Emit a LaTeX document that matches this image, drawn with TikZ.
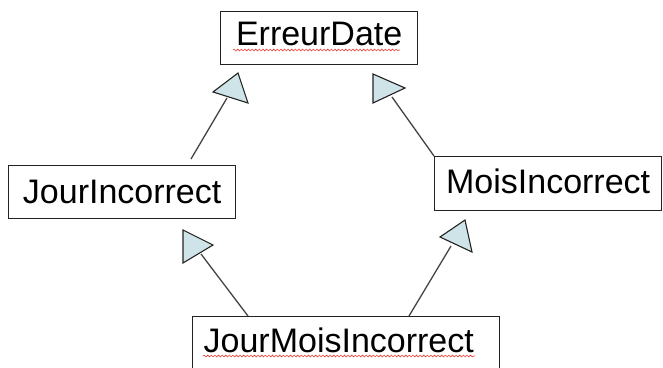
\documentclass[tikz,border=0pt]{standalone}
\usepackage{fontspec}
\setmainfont{Liberation Sans}
\usetikzlibrary{calc,decorations.pathmorphing}

\definecolor{boxline}{HTML}{222222}
\definecolor{linkline}{HTML}{444444}
\definecolor{headfill}{HTML}{CFE4E8}
\definecolor{spellred}{HTML}{F0403A}

\tikzset{
  classbox/.style={draw=boxline, line width=1.3pt, inner sep=0pt, fill=white,
    font=\fontsize{34}{40}\selectfont, anchor=north west},
  link/.style={draw=linkline, line width=1.3pt},
  head/.style={draw=boxline, line width=1.1pt, fill=headfill, line join=miter},
  squiggle/.style={draw=spellred, line width=0.6pt,
    decorate, decoration={snake, amplitude=0.9pt, segment length=3.6pt}}
}

\begin{document}
\begin{tikzpicture}[x=1pt,y=-1pt]
  \clip (0,0) rectangle (663,367);
  \fill[white] (0,0) rectangle (663,367);

  % class boxes (text height/depth place the baseline inside each box)
  \node[classbox, text width=197pt, align=center, text height=34pt, text depth=19pt]
    (err) at (220,11) {ErreurDate};
  \node[classbox, text width=227pt, align=center, text height=38pt, text depth=15pt]
    (jour) at (8,165) {JourIncorrect};
  \node[classbox, text width=227pt, align=center, text height=37pt, text depth=17pt]
    (mois) at (434,156) {MoisIncorrect};
  \node[classbox, text width=307pt, align=left, text height=36pt, text depth=40pt]
    (jm) at (192,316) {\hspace*{11pt}JourMoisIncorrect};

  % spell-check underlines
  \draw[squiggle] ($(err.north west)+(13,39)$) -- ($(err.north west)+(180,39)$);
  \draw[squiggle] ($(jm.north west)+(11,40)$) -- ($(jm.north west)+(283,40)$);

  % ends of the generalisation links, at the base of each triangle
  \coordinate (hJE) at (227,98);
  \coordinate (hME) at (392,97);
  \coordinate (hJMJ) at (201,254);
  \coordinate (hJMM) at (451,246);

  % generalisation links
  \draw[link] ($(jour.north west)+(183,-6)$) -- (hJE);
  \draw[link] (mois.north west) -- (hME);
  \draw[link] ($(jm.north west)+(56,0)$) -- (hJMJ);
  \draw[link] ($(jm.north west)+(217,0)$) -- (hJMM);

  % hollow triangle heads
  \filldraw[head] (213,92) -- (238,73) -- (248,103) -- cycle;
  \filldraw[head] (373,74) -- (405,88) -- (373,103) -- cycle;
  \filldraw[head] (183,230) -- (213,245) -- (183,263) -- cycle;
  \filldraw[head] (440,237) -- (465,220) -- (472,252) -- cycle;
\end{tikzpicture}
\end{document}
